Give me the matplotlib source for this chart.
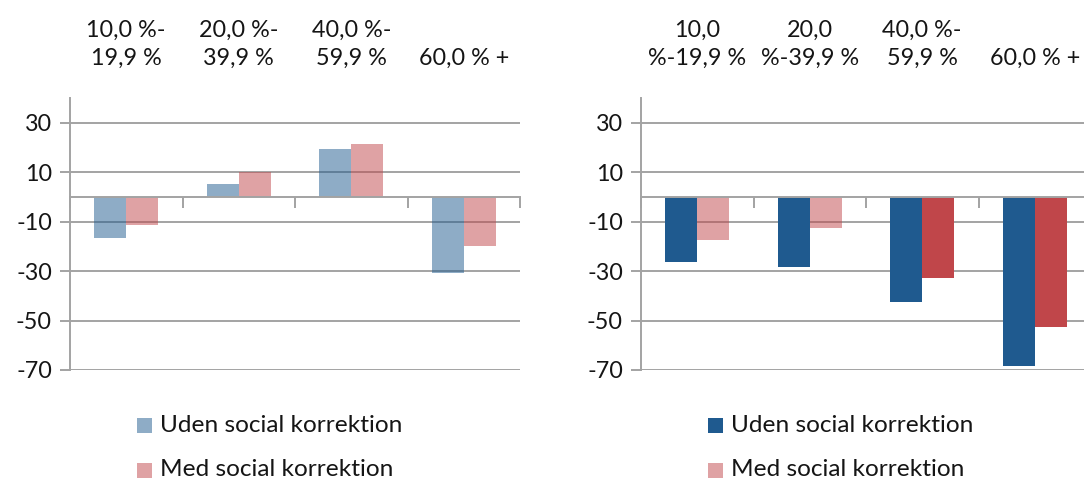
import matplotlib
matplotlib.use("Agg")
import numpy as np
import matplotlib.pyplot as plt
from matplotlib.patches import Rectangle
from matplotlib.transforms import blended_transform_factory

# ── data ──────────────────────────────────────────────────────────────────────
left_labels = ["10,0 %-\n19,9 %", "20,0 %-\n39,9 %", "40,0 %-\n59,9 %", "60,0 % +"]
right_labels = ["10,0\n%-19,9 %", "20,0\n%-39,9 %", "40,0 %-\n59,9 %", "60,0 % +"]

left_uden = [-16.7, 5.2, 19.5, -30.9]
left_med = [-11.4, 10.0, 21.2, -19.8]
right_uden = [-26.5, -28.3, -42.7, -68.5]
right_med = [-17.5, -12.7, -32.7, -52.7]

series_names = ["Uden social korrektion", "Med social korrektion"]
y_ticks = [-70, -50, -30, -10, 10, 30]

# ── style ─────────────────────────────────────────────────────────────────────
BLUE = "#1F5A8F"
RED = "#C0464A"
GRID = "#A3A3A3"
TXT = "#151515"
FS = 16.8
FS_LEG = 17.6
plt.rcParams["font.family"] = ["Lato", "DejaVu Sans"]

W, H = 1084, 483
fig = plt.figure(figsize=(W / 100, H / 100), dpi=100)


def px(x0, y0, w, h):
    """pixel box (top-left origin) -> figure fraction rect"""
    return [x0 / W, 1 - (y0 + h) / H, w / W, h / H]


def draw_panel(ax, labels, uden, med, uden_alpha, med_alpha):
    x = np.arange(len(labels))
    bw = 0.285
    # pale bars are the same colours at half opacity, gridlines show through
    for xi, v, a in zip(x, uden, uden_alpha):
        ax.bar(xi - bw / 2, v, bw, color=BLUE, alpha=a, zorder=3)
    for xi, v, a in zip(x, med, med_alpha):
        ax.bar(xi + bw / 2, v, bw, color=RED, alpha=a, zorder=3)

    ax.set_xlim(-0.5, 3.5)
    ax.set_ylim(-70, 40)
    ax.set_yticks(y_ticks)
    ax.set_yticklabels([str(t) for t in y_ticks], fontsize=FS, color=TXT)
    ax.tick_params(axis="y", length=7, width=1.4, color=GRID, pad=6)
    for t in y_ticks:
        ax.axhline(t, color=GRID, lw=1.4, zorder=1)

    # category axis sits on the zero line, ticks between categories
    ax.spines["bottom"].set_position(("data", 0))
    ax.spines["bottom"].set_color(GRID)
    ax.spines["bottom"].set_linewidth(1.4)
    ax.spines["bottom"].set_zorder(4)
    ax.set_xticks(np.arange(-0.5, 4, 1.0))
    ax.set_xticklabels([])
    ax.tick_params(axis="x", direction="out", length=8, width=1.4, color=GRID)
    ax.spines["left"].set_color(GRID)
    ax.spines["left"].set_linewidth(1.4)
    for s in ("top", "right"):
        ax.spines[s].set_visible(False)

    # category labels above the plot
    tr = blended_transform_factory(ax.transData, fig.transFigure)
    for xi, lab in zip(x, labels):
        ax.text(xi, 1 - 65 / H, lab, transform=tr, ha="center", va="baseline",
                fontsize=FS, color=TXT, linespacing=1.42, multialignment="center")


def legend(x0, colors, alphas):
    ys = [425, 470]
    for name, c, a, yc in zip(series_names, colors, alphas, ys):
        fig.add_artist(Rectangle((x0 / W, 1 - (yc + 7.5) / H), 15 / W, 15 / H,
                                 transform=fig.transFigure, color=c, alpha=a,
                                 lw=0))
        fig.text((x0 + 23) / W, 1 - yc / H, name, ha="left", va="center",
                 fontsize=FS_LEG, color=TXT)


ax1 = fig.add_axes(px(70, 98, 450, 272))
draw_panel(ax1, left_labels, left_uden, left_med, [0.5] * 4, [0.5] * 4)
legend(137, [BLUE, RED], [0.5, 0.5])

ax2 = fig.add_axes(px(641, 98, 450, 272))
draw_panel(ax2, right_labels, right_uden, right_med, [1.0] * 4,
           [0.5, 0.5, 1.0, 1.0])
legend(708, [BLUE, RED], [1.0, 0.5])

fig.savefig("out.png", dpi=100)
